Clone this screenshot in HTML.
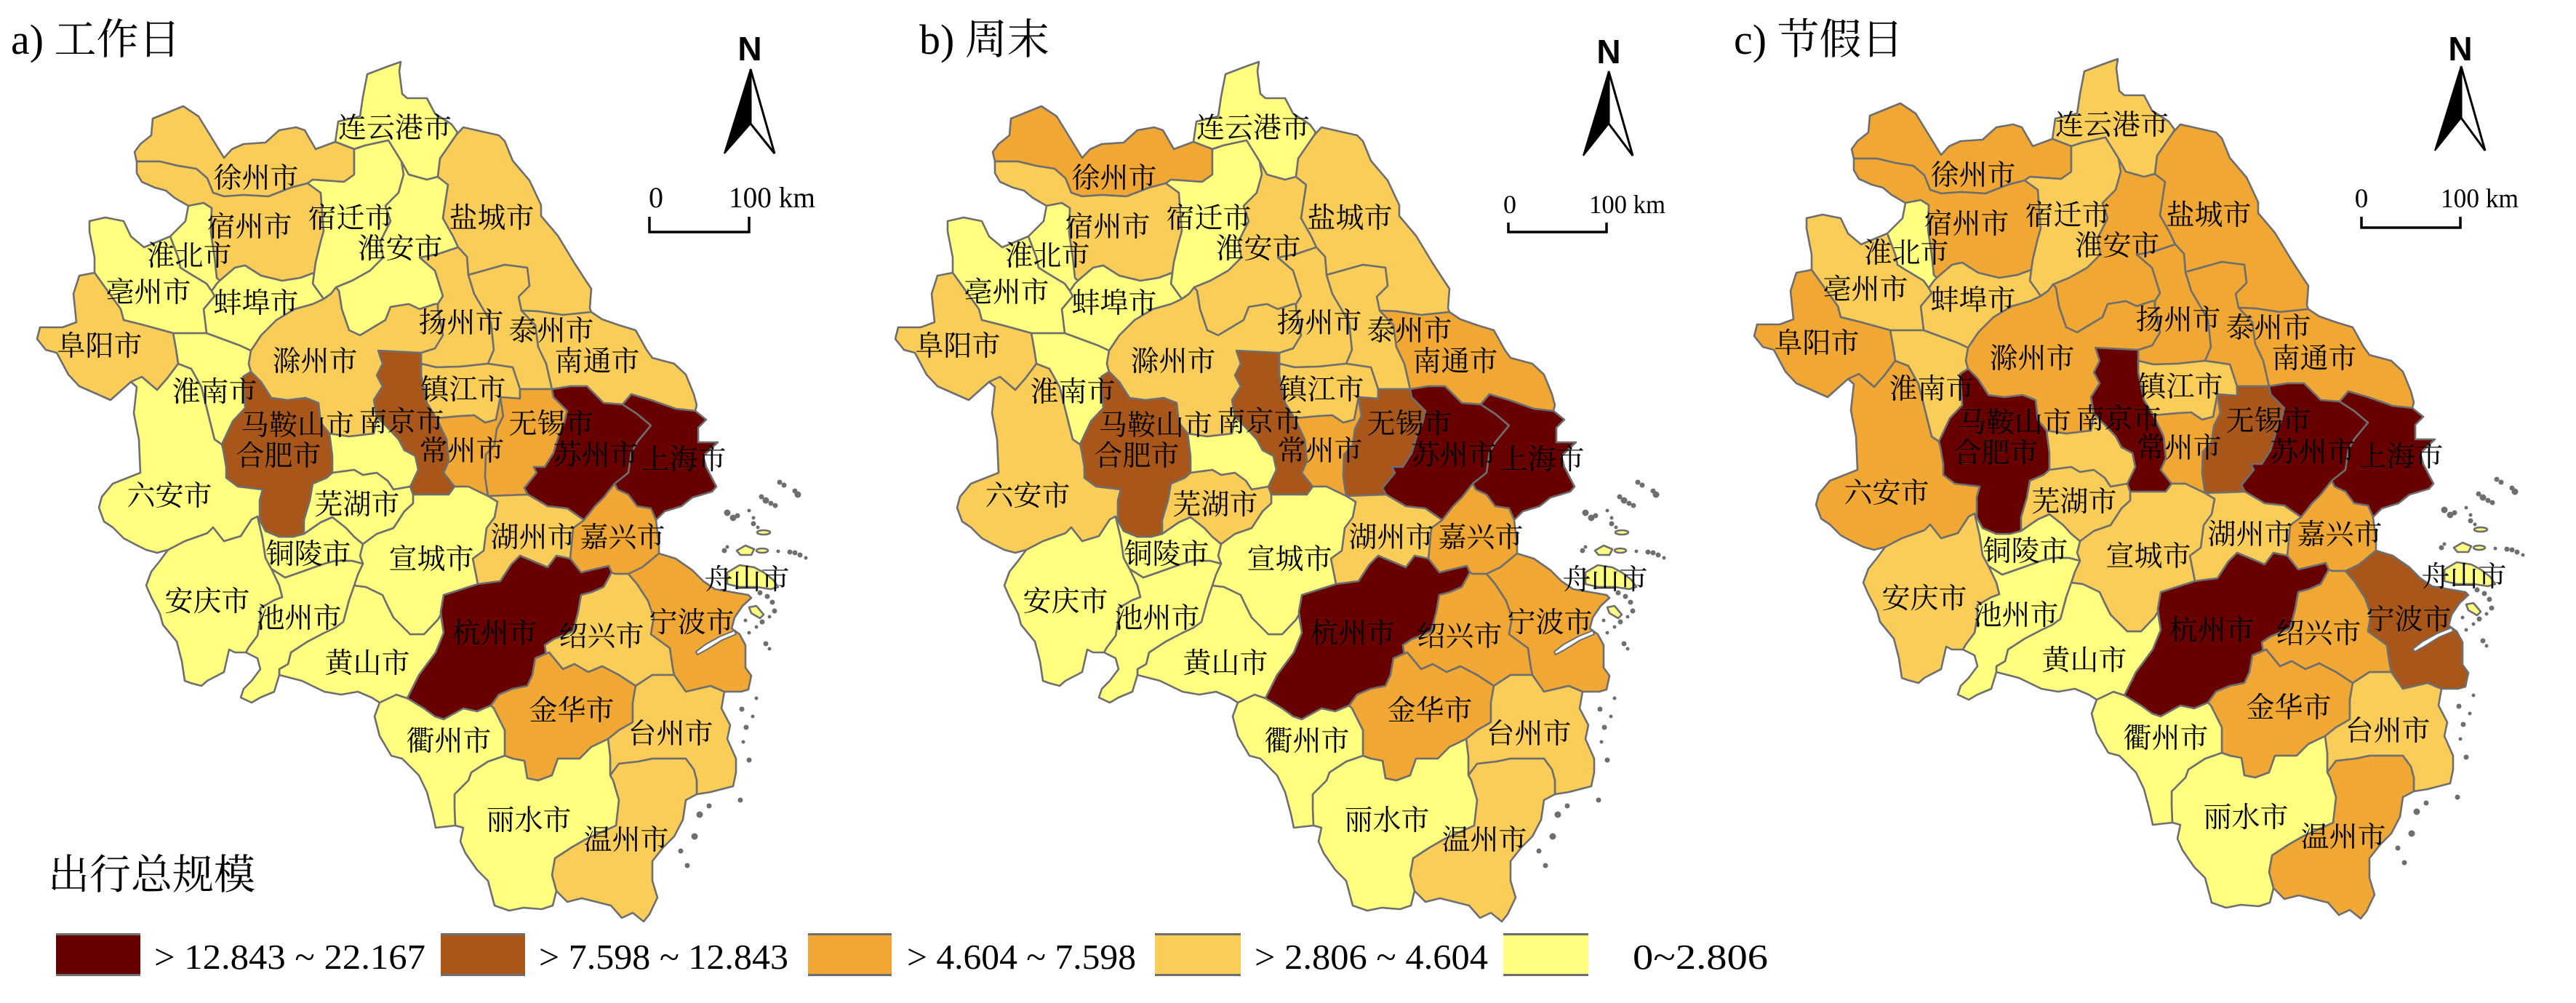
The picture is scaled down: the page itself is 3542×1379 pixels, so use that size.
<!DOCTYPE html>
<html><head><meta charset="utf-8"><style>
html,body{margin:0;padding:0;background:#fff;}
svg{display:block;}
.lb{font-family:"Noto Serif CJK SC",serif;font-size:39px;text-anchor:middle;fill:#000;}
.tt{font-family:"Liberation Serif","Noto Serif CJK SC",serif;font-size:58px;fill:#000;}
.lg{font-family:"Liberation Serif",serif;font-size:49px;fill:#000;}
.sc{font-family:"Liberation Serif",serif;fill:#000;}
.nn{font-family:"Liberation Sans",sans-serif;font-weight:bold;font-size:46px;text-anchor:middle;fill:#000;}
</style></head><body>
<svg width="3542" height="1379" viewBox="0 0 3542 1379" xmlns="http://www.w3.org/2000/svg">
<rect width="3542" height="1379" fill="#fff"/>
<defs>
<polygon id="LYG" points="551,85 549,98 553,129 560,135 587,135 598,156 621,171 629,182 627,186 605,218 602,243 587,247 562,240 552,222 534,193 502,200 487,205 461,195 465,167 495,160 499,133 505,102 534,91"/>
<polygon id="XZ" points="210,163 252,146 273,160 289,186 308,217 319,205 335,198 365,196 384,179 407,175 419,179 434,205 461,195 487,205 487,240 473,250 430,247 423,252 400,258 369,270 335,268 308,270 293,265 285,245 270,232 245,228 220,222 188,222 185,209 193,198 208,186"/>
<polygon id="SZh" points="188,222 220,222 245,228 270,232 285,245 293,265 308,270 335,268 369,270 400,258 423,252 441,265 445,318 441,332 434,361 432,375 413,382 388,386 359,379 337,365 323,368 302,386 298,382 295,354 290,320 291,286 280,279 259,283 240,272 228,262 213,258 195,250 188,238"/>
<polygon id="SQ" points="423,252 430,247 473,250 487,240 487,205 502,200 534,193 552,222 555,240 548,265 530,283 537,304 523,332 527,354 509,372 484,386 462,395 455,404 445,411 430,390 434,361 441,332 445,318 441,265"/>
<polygon id="HA" points="552,222 562,240 587,247 602,243 616,254 609,300 623,325 630,340 600,350 577,354 598,372 609,407 602,418 598,418 577,425 562,418 537,422 530,440 495,461 480,454 470,425 466,400 462,395 484,386 509,372 527,354 523,332 537,304 530,283 548,265 555,240"/>
<polygon id="YC" points="627,186 637,175 686,186 694,194 705,221 728,248 744,282 744,297 767,324 790,362 805,385 813,397 811,424 813,429 774,433 740,428 717,427 713,408 728,393 725,368 694,364 644,378 642,353 630,340 623,325 609,300 616,254 602,243 605,218"/>
<polygon id="YZ" points="577,354 600,350 630,340 642,353 644,378 652,404 659,416 675,443 679,481 671,500 633,504 600,505 579,500 579,485 598,479 609,461 602,425 602,418 609,407 598,372"/>
<polygon id="TZ" points="644,378 694,364 725,368 728,393 713,408 717,427 736,447 740,477 751,500 759,535 715,535 705,505 671,500 679,481 675,443 659,416 652,404"/>
<polygon id="NT" points="717,427 740,428 774,433 813,429 828,439 851,447 874,454 889,481 897,492 927,500 943,515 954,542 958,557 956,565 929,562 895,550 868,542 856,556 830,554 807,531 784,531 759,535 751,500 740,477 736,447"/>
<polygon id="ZJ" points="579,500 600,505 633,504 671,500 705,505 715,535 715,548 688,546 682,577 667,581 652,571 633,572 600,575 587,554 579,516"/>
<polygon id="NJ" points="520,482 579,485 579,500 579,516 587,554 600,575 614,604 617,634 610,650 625,669 617,680 568,680 564,669 575,646 571,627 556,619 548,604 533,588 518,573 514,550 526,531 518,516 526,500"/>
<polygon id="CZ" points="600,575 633,572 652,571 667,581 682,577 688,546 692,572 683,590 680,612 668,625 667,655 671,682 644,669 625,669 610,650 617,634 614,604"/>
<polygon id="WX" points="688,546 715,548 715,535 759,535 761,546 780,565 776,581 768,600 761,623 749,642 734,642 738,650 721,671 726,680 671,682 667,655 668,625 680,612 683,590 692,572"/>
<polygon id="SZ" points="759,535 784,531 807,531 830,554 856,556 876,569 895,585 876,608 868,623 864,650 845,665 830,684 818,696 803,715 780,699 753,696 726,680 721,671 738,650 734,642 749,642 761,623 768,600 776,581 780,565 761,546"/>
<polygon id="SH" points="856,556 868,542 895,550 929,562 956,565 971,577 960,588 960,608 987,608 967,627 971,642 985,669 979,676 952,684 937,696 914,703 902,715 895,699 876,696 864,680 849,673 845,665 864,650 868,623 876,608 895,585 876,569"/>
<polygon id="JX" points="845,665 849,673 864,680 876,696 895,699 902,715 906,749 906,761 883,780 864,789 845,789 841,787 837,778 799,787 784,768 788,726 803,715 818,696 830,684"/>
<polygon id="HZh" points="671,682 726,680 753,696 780,699 803,715 788,726 784,768 765,764 753,780 715,764 703,776 688,799 657,803 650,768 665,757 669,726 680,711 684,690"/>
<polygon id="HZ" points="610,818 657,803 688,799 703,776 715,764 753,780 765,764 784,768 799,787 837,778 841,787 830,807 814,814 799,818 795,841 788,868 761,879 749,887 751,900 736,905 732,928 725,943 705,947 686,955 675,970 656,978 637,974 610,989 598,985 583,974 560,960 576,928 599,897 610,870 606,841"/>
<polygon id="SX" points="845,789 864,789 876,803 891,826 899,849 895,872 921,891 925,918 927,928 897,928 874,943 851,928 828,916 809,924 790,913 774,920 755,897 736,905 751,900 749,887 761,879 788,868 795,841 799,818 814,814 830,807 841,787"/>
<polygon id="NB" points="906,761 929,768 952,784 967,799 983,810 1006,814 1029,818 1033,822 1021,833 1010,849 1006,864 1017,872 1025,887 1025,918 1033,929 1029,948 1019,951 996,951 977,943 943,951 927,928 925,918 921,891 895,872 899,849 891,826 876,803 864,789 883,780"/>
<polygon id="JH" points="675,970 686,955 705,947 725,943 732,928 736,905 755,897 774,920 790,913 809,924 828,916 851,928 874,943 870,966 870,993 851,1004 836,1016 813,1027 797,1043 767,1043 759,1066 740,1073 725,1070 721,1046 705,1043 694,1039 694,1004 679,974"/>
<polygon id="TZz" points="874,943 897,928 927,928 943,951 977,943 996,951 992,974 1004,997 1000,1016 1012,1043 1012,1062 1008,1081 977,1089 958,1092 958,1073 954,1058 943,1043 897,1043 878,1047 851,1050 839,1066 839,1040 836,1016 851,1004 870,993 870,966"/>
<polygon id="WZ" points="839,1066 851,1050 878,1047 897,1043 943,1043 954,1058 958,1073 958,1092 943,1100 939,1127 927,1150 912,1165 897,1184 897,1211 904,1234 893,1257 885,1267 870,1255 855,1262 840,1245 800,1235 780,1240 765,1225 759,1203 763,1180 786,1165 805,1154 847,1135 851,1100 843,1073"/>
<polygon id="LS" points="694,1039 705,1043 721,1046 725,1070 740,1073 759,1066 767,1043 797,1043 813,1027 836,1016 839,1040 839,1066 843,1073 851,1100 847,1135 805,1154 786,1165 763,1180 759,1203 765,1225 760,1245 745,1250 720,1248 700,1252 680,1245 671,1211 656,1196 640,1173 633,1157 637,1138 626,1135 625,1112 625,1092 644,1073 648,1062 671,1047"/>
<polygon id="QZ" points="545,955 560,960 583,974 598,985 610,989 637,974 656,978 675,970 679,974 694,1004 694,1039 671,1047 648,1062 644,1073 625,1092 625,1112 626,1135 599,1138 595,1119 587,1089 576,1066 553,1043 538,1039 522,1012 515,985 522,966"/>
<polygon id="HS" points="487,805 503,807 526,818 533,833 541,849 564,872 583,872 602,852 606,845 610,870 599,897 576,928 560,960 545,955 522,966 511,959 492,951 469,955 446,951 415,936 384,928 384,920 396,913 400,897 423,882 446,870 461,863 472,855 480,825"/>
<polygon id="XC" points="568,680 617,680 625,669 644,669 671,682 684,690 680,711 669,726 665,757 650,768 657,803 610,818 606,841 606,845 602,852 583,872 564,872 541,849 533,833 526,818 503,807 487,805 492,790 499,775 495,764 499,748 518,734 541,726 556,703 568,692"/>
<polygon id="CZh" points="373,782 392,794 415,786 446,775 461,771 484,771 499,775 492,790 487,805 480,825 472,855 461,863 446,870 423,882 400,897 396,913 384,920 384,928 377,951 358,959 346,966 331,959 335,947 346,936 358,920 354,905 338,897 342,890 354,874 358,851 358,836 377,825 388,821 384,805"/>
<polygon id="AQ" points="231,756 254,744 285,733 293,725 308,744 331,737 346,714 354,710 361,740 365,767 373,782 384,805 388,821 377,825 358,836 358,851 354,874 342,890 338,897 323,897 315,893 308,924 285,936 277,943 262,939 254,936 250,909 243,882 224,859 220,844 208,821 201,805 208,786 220,771"/>
<polygon id="TL" points="354,710 357,715 365,730 384,738 403,738 418,734 441,718 457,711 476,726 487,738 499,748 495,764 499,775 484,771 461,771 446,775 415,786 392,794 373,782 365,767 361,740"/>
<polygon id="HF" points="334,518 345,511 359,525 373,547 395,550 420,547 438,554 441,581 453,596 457,627 457,650 449,657 430,665 426,688 418,715 418,734 403,738 384,738 365,730 357,715 357,688 361,673 327,669 311,657 311,642 307,619 305,611 320,579 337,561"/>
<polygon id="MAS" points="453,596 480,600 514,596 518,573 533,588 548,604 556,619 571,627 575,646 564,669 541,673 533,661 518,650 499,653 487,646 457,650 457,627"/>
<polygon id="WH" points="457,650 487,646 499,653 518,650 533,661 541,673 564,669 568,680 568,692 556,703 541,726 518,734 499,748 487,738 476,726 457,711 441,718 418,734 418,715 426,688 430,665 449,657"/>
<polygon id="LA" points="180,525 195,518 216,536 230,520 245,500 263,507 277,532 295,604 305,611 307,619 311,642 311,657 327,669 361,673 357,688 357,715 354,710 346,714 331,737 308,744 293,725 285,733 254,744 231,756 216,760 201,756 185,748 170,740 155,725 143,717 136,698 140,683 155,665 193,650 191,604 184,568 188,532"/>
<polygon id="HN" points="238,458 284,458 330,475 345,482 342,500 345,511 334,518 337,561 320,579 305,611 295,604 277,532 263,507 245,500 242,480"/>
<polygon id="CHZ" points="345,482 359,461 380,440 405,425 430,418 445,411 455,404 462,395 466,400 470,425 480,454 495,461 530,440 537,422 562,418 577,425 598,418 602,418 602,425 609,461 598,479 579,485 520,482 526,500 518,516 526,531 514,550 518,573 514,596 480,600 453,596 441,581 438,554 420,547 395,550 373,547 359,525 345,511 342,500"/>
<polygon id="BB" points="298,390 302,386 323,368 337,365 359,379 388,386 413,382 432,375 430,390 445,411 430,418 405,425 380,440 359,461 345,482 330,475 284,458 280,425 295,407 291,400"/>
<polygon id="HB" points="255,304 259,283 280,279 291,286 290,320 295,354 298,382 302,386 298,390 291,400 284,390 259,375 248,368 245,354 234,325"/>
<polygon id="BZ" points="123,304 145,299 170,304 180,325 198,340 234,325 245,354 248,368 259,375 284,390 291,400 295,407 280,425 284,458 238,458 198,447 170,440 166,425 130,375 130,354 123,318"/>
<polygon id="FY" points="109,379 130,375 166,425 170,440 198,447 238,458 242,480 245,500 230,520 216,536 195,518 180,525 152,550 109,531 94,515 78,485 63,481 51,466 55,450 86,450 105,443 101,404"/>
<g id="ZSI">
<polygon points="1000,787 1017,777 1037,780 1050,787 1063,797 1070,807 1060,810 1040,807 1017,807 1000,803"/>
<polygon points="1013,757 1025,750 1037,755 1033,763 1018,763"/>
<ellipse cx="1048" cy="757" rx="8" ry="3"/>
<ellipse cx="1050" cy="732" rx="9" ry="3"/>
<polygon points="1030,835 1040,833 1050,845 1045,850 1033,843"/>
</g>
<g id="SPK">
<circle cx="1000" cy="705" r="4"/><circle cx="1008" cy="712" r="4"/><circle cx="1014" cy="709" r="3"/>
<circle cx="1047" cy="683" r="3"/><circle cx="1053" cy="688" r="4"/><circle cx="1060" cy="692" r="3"/><circle cx="1066" cy="695" r="3"/>
<circle cx="1072" cy="663" r="3"/><circle cx="1078" cy="667" r="3"/><circle cx="1093" cy="675" r="3"/><circle cx="1097" cy="680" r="4"/>
<circle cx="1030" cy="702" r="2"/><circle cx="1036" cy="712" r="2"/><circle cx="1036" cy="720" r="3"/><circle cx="1042" cy="725" r="2"/>
<circle cx="996" cy="757" r="3"/><circle cx="1000" cy="752" r="2"/><circle cx="1086" cy="759" r="3"/><circle cx="1093" cy="760" r="3"/><circle cx="1100" cy="763" r="3"/><circle cx="1108" cy="767" r="2"/><circle cx="1070" cy="758" r="2"/>
<circle cx="1045" cy="815" r="3"/><circle cx="1055" cy="820" r="3"/><circle cx="1062" cy="828" r="3"/><circle cx="1065" cy="840" r="3"/><circle cx="1048" cy="855" r="3"/><circle cx="1058" cy="848" r="2"/>
<circle cx="1053" cy="885" r="3"/><circle cx="1058" cy="892" r="2"/><circle cx="1025" cy="853" r="2"/><circle cx="1030" cy="870" r="2"/><circle cx="1040" cy="862" r="2"/>
<circle cx="1020" cy="975" r="3"/><circle cx="1026" cy="1000" r="3"/><circle cx="1035" cy="985" r="2"/>
<circle cx="1030" cy="1045" r="3"/><circle cx="1018" cy="1100" r="3"/><circle cx="962" cy="1120" r="4"/>
<circle cx="955" cy="1150" r="4"/><circle cx="945" cy="1190" r="3"/><circle cx="936" cy="1170" r="3"/>
<circle cx="1022" cy="1020" r="2"/><circle cx="1040" cy="960" r="2"/><circle cx="975" cy="1108" r="3"/>
</g>
<polygon id="INL" points="1010,867 990,875 970,886 957,896 959,900 972,893 993,880 1012,872"/>
</defs>

<!-- MAP A -->
<g stroke="#6e6e6e" stroke-width="2.6" stroke-linejoin="round">
<use href="#LYG" fill="#ffff80"/><use href="#XZ" fill="#f9cd58"/><use href="#SZh" fill="#f9cd58"/><use href="#SQ" fill="#ffff80"/><use href="#HA" fill="#ffff80"/><use href="#YC" fill="#f9cd58"/><use href="#YZ" fill="#f9cd58"/><use href="#TZ" fill="#f9cd58"/><use href="#NT" fill="#f9cd58"/><use href="#ZJ" fill="#f9cd58"/><use href="#NJ" fill="#a9561a"/><use href="#CZ" fill="#f0a733"/><use href="#WX" fill="#f0a733"/><use href="#SZ" fill="#680000"/><use href="#SH" fill="#680000"/><use href="#JX" fill="#f0a733"/><use href="#HZh" fill="#f9cd58"/><use href="#HZ" fill="#680000"/><use href="#SX" fill="#f9cd58"/><use href="#NB" fill="#f0a733"/><use href="#JH" fill="#f0a733"/><use href="#TZz" fill="#f9cd58"/><use href="#WZ" fill="#f9cd58"/><use href="#LS" fill="#ffff80"/><use href="#QZ" fill="#ffff80"/><use href="#HS" fill="#ffff80"/><use href="#XC" fill="#ffff80"/><use href="#CZh" fill="#ffff80"/><use href="#AQ" fill="#ffff80"/><use href="#TL" fill="#ffff80"/><use href="#HF" fill="#a9561a"/><use href="#MAS" fill="#ffff80"/><use href="#WH" fill="#ffff80"/><use href="#LA" fill="#ffff80"/><use href="#HN" fill="#ffff80"/><use href="#CHZ" fill="#f9cd58"/><use href="#BB" fill="#ffff80"/><use href="#HB" fill="#ffff80"/><use href="#BZ" fill="#ffff80"/><use href="#FY" fill="#f9cd58"/>
<use href="#INL" fill="#fff" stroke-width="2"/><use href="#ZSI" fill="#ffff80"/><use href="#SPK" fill="#6e6e6e" stroke-width="1"/>
</g>
<!-- MAP B -->
<g transform="translate(1180,0)" stroke="#6e6e6e" stroke-width="2.6" stroke-linejoin="round">
<use href="#LYG" fill="#ffff80"/><use href="#XZ" fill="#f0a733"/><use href="#SZh" fill="#f9cd58"/><use href="#SQ" fill="#ffff80"/><use href="#HA" fill="#f9cd58"/><use href="#YC" fill="#f9cd58"/><use href="#YZ" fill="#f9cd58"/><use href="#TZ" fill="#f9cd58"/><use href="#NT" fill="#f0a733"/><use href="#ZJ" fill="#f9cd58"/><use href="#NJ" fill="#a9561a"/><use href="#CZ" fill="#f0a733"/><use href="#WX" fill="#a9561a"/><use href="#SZ" fill="#680000"/><use href="#SH" fill="#680000"/><use href="#JX" fill="#f0a733"/><use href="#HZh" fill="#f9cd58"/><use href="#HZ" fill="#680000"/><use href="#SX" fill="#f0a733"/><use href="#NB" fill="#f0a733"/><use href="#JH" fill="#f0a733"/><use href="#TZz" fill="#f9cd58"/><use href="#WZ" fill="#f9cd58"/><use href="#LS" fill="#ffff80"/><use href="#QZ" fill="#ffff80"/><use href="#HS" fill="#ffff80"/><use href="#XC" fill="#ffff80"/><use href="#CZh" fill="#ffff80"/><use href="#AQ" fill="#ffff80"/><use href="#TL" fill="#ffff80"/><use href="#HF" fill="#a9561a"/><use href="#MAS" fill="#ffff80"/><use href="#WH" fill="#f9cd58"/><use href="#LA" fill="#f9cd58"/><use href="#HN" fill="#ffff80"/><use href="#CHZ" fill="#f9cd58"/><use href="#BB" fill="#ffff80"/><use href="#HB" fill="#ffff80"/><use href="#BZ" fill="#ffff80"/><use href="#FY" fill="#f9cd58"/>
<use href="#INL" fill="#fff" stroke-width="2"/><use href="#ZSI" fill="#ffff80"/><use href="#SPK" fill="#6e6e6e" stroke-width="1"/>
</g>
<!-- MAP C -->
<g transform="translate(2361,-4)" stroke="#6e6e6e" stroke-width="2.6" stroke-linejoin="round">
<use href="#LYG" fill="#f9cd58"/><use href="#XZ" fill="#f0a733"/><use href="#SZh" fill="#f0a733"/><use href="#SQ" fill="#f9cd58"/><use href="#HA" fill="#f0a733"/><use href="#YC" fill="#f0a733"/><use href="#YZ" fill="#f0a733"/><use href="#TZ" fill="#f0a733"/><use href="#NT" fill="#f0a733"/><use href="#ZJ" fill="#f9cd58"/><use href="#NJ" fill="#680000"/><use href="#CZ" fill="#f0a733"/><use href="#WX" fill="#a9561a"/><use href="#SZ" fill="#680000"/><use href="#SH" fill="#680000"/><use href="#JX" fill="#f0a733"/><use href="#HZh" fill="#f9cd58"/><use href="#HZ" fill="#680000"/><use href="#SX" fill="#f0a733"/><use href="#NB" fill="#a9561a"/><use href="#JH" fill="#f0a733"/><use href="#TZz" fill="#f9cd58"/><use href="#WZ" fill="#f0a733"/><use href="#LS" fill="#ffff80"/><use href="#QZ" fill="#ffff80"/><use href="#HS" fill="#ffff80"/><use href="#XC" fill="#f9cd58"/><use href="#CZh" fill="#ffff80"/><use href="#AQ" fill="#f9cd58"/><use href="#TL" fill="#ffff80"/><use href="#HF" fill="#680000"/><use href="#MAS" fill="#f9cd58"/><use href="#WH" fill="#f9cd58"/><use href="#LA" fill="#f0a733"/><use href="#HN" fill="#f9cd58"/><use href="#CHZ" fill="#f0a733"/><use href="#BB" fill="#f9cd58"/><use href="#HB" fill="#ffff80"/><use href="#BZ" fill="#f9cd58"/><use href="#FY" fill="#f0a733"/>
<use href="#INL" fill="#fff" stroke-width="2"/><use href="#ZSI" fill="#ffff80"/><use href="#SPK" fill="#6e6e6e" stroke-width="1"/>
</g>

<!-- LABELS A -->
<g class="lb">
<text x="543" y="189">连云港市</text><text x="352" y="258">徐州市</text><text x="343" y="325">宿州市</text><text x="482" y="313">宿迁市</text><text x="550" y="355">淮安市</text><text x="676" y="313">盐城市</text><text x="260" y="365">淮北市</text><text x="204" y="415">亳州市</text><text x="352" y="430">蚌埠市</text><text x="634" y="457">扬州市</text><text x="758" y="468">泰州市</text><text x="137" y="489">阜阳市</text><text x="433" y="510">滁州市</text><text x="821" y="510">南通市</text><text x="295" y="552">淮南市</text><text x="637" y="549">镇江市</text><text x="409" y="598">马鞍山市</text><text x="552" y="593">南京市</text><text x="758" y="596">无锡市</text><text x="383" y="640">合肥市</text><text x="635" y="633">常州市</text><text x="819" y="639">苏州市</text><text x="940" y="645">上海市</text><text x="233" y="695">六安市</text><text x="491" y="707">芜湖市</text><text x="733" y="752">湖州市</text><text x="856" y="752">嘉兴市</text><text x="424" y="775">铜陵市</text><text x="593" y="782">宣城市</text><text x="1027" y="810">舟山市</text><text x="285" y="840">安庆市</text><text x="411" y="863">池州市</text><text x="680" y="884">杭州市</text><text x="827" y="888">绍兴市</text><text x="951" y="869">宁波市</text><text x="505" y="925">黄山市</text><text x="786" y="990">金华市</text><text x="617" y="1032">衢州市</text><text x="922" y="1022">台州市</text><text x="727" y="1141">丽水市</text><text x="861" y="1168">温州市</text>
</g>
<!-- LABELS B -->
<g class="lb" transform="translate(1180,0)">
<text x="543" y="189">连云港市</text><text x="352" y="258">徐州市</text><text x="343" y="325">宿州市</text><text x="482" y="313">宿迁市</text><text x="550" y="355">淮安市</text><text x="676" y="313">盐城市</text><text x="260" y="365">淮北市</text><text x="204" y="415">亳州市</text><text x="352" y="430">蚌埠市</text><text x="634" y="457">扬州市</text><text x="758" y="468">泰州市</text><text x="137" y="489">阜阳市</text><text x="433" y="510">滁州市</text><text x="821" y="510">南通市</text><text x="295" y="552">淮南市</text><text x="637" y="549">镇江市</text><text x="409" y="598">马鞍山市</text><text x="552" y="593">南京市</text><text x="758" y="596">无锡市</text><text x="383" y="640">合肥市</text><text x="635" y="633">常州市</text><text x="819" y="639">苏州市</text><text x="940" y="645">上海市</text><text x="233" y="695">六安市</text><text x="491" y="707">芜湖市</text><text x="733" y="752">湖州市</text><text x="856" y="752">嘉兴市</text><text x="424" y="775">铜陵市</text><text x="593" y="782">宣城市</text><text x="1027" y="810">舟山市</text><text x="285" y="840">安庆市</text><text x="411" y="863">池州市</text><text x="680" y="884">杭州市</text><text x="827" y="888">绍兴市</text><text x="951" y="869">宁波市</text><text x="505" y="925">黄山市</text><text x="786" y="990">金华市</text><text x="617" y="1032">衢州市</text><text x="922" y="1022">台州市</text><text x="727" y="1141">丽水市</text><text x="861" y="1168">温州市</text>
</g>
<!-- LABELS C -->
<g class="lb" transform="translate(2361,-4)">
<text x="543" y="189">连云港市</text><text x="352" y="258">徐州市</text><text x="343" y="325">宿州市</text><text x="482" y="313">宿迁市</text><text x="550" y="355">淮安市</text><text x="676" y="313">盐城市</text><text x="260" y="365">淮北市</text><text x="204" y="415">亳州市</text><text x="352" y="430">蚌埠市</text><text x="634" y="457">扬州市</text><text x="758" y="468">泰州市</text><text x="137" y="489">阜阳市</text><text x="433" y="510">滁州市</text><text x="821" y="510">南通市</text><text x="295" y="552">淮南市</text><text x="637" y="549">镇江市</text><text x="409" y="598">马鞍山市</text><text x="552" y="593">南京市</text><text x="758" y="596">无锡市</text><text x="383" y="640">合肥市</text><text x="635" y="633">常州市</text><text x="819" y="639">苏州市</text><text x="940" y="645">上海市</text><text x="233" y="695">六安市</text><text x="491" y="707">芜湖市</text><text x="733" y="752">湖州市</text><text x="856" y="752">嘉兴市</text><text x="424" y="775">铜陵市</text><text x="593" y="782">宣城市</text><text x="1027" y="810">舟山市</text><text x="285" y="840">安庆市</text><text x="411" y="863">池州市</text><text x="680" y="884">杭州市</text><text x="827" y="888">绍兴市</text><text x="951" y="869">宁波市</text><text x="505" y="925">黄山市</text><text x="786" y="990">金华市</text><text x="617" y="1032">衢州市</text><text x="922" y="1022">台州市</text><text x="727" y="1141">丽水市</text><text x="861" y="1168">温州市</text>
</g>

<!-- Titles -->
<text class="tt" x="15" y="74">a) 工作日</text>
<text class="tt" x="1264" y="74">b) 周末</text>
<text class="tt" x="2384" y="74">c) 节假日</text>

<!-- North arrows -->
<text class="nn" x="1031" y="83">N</text>
<polygon points="1032,95 996,211 1032,170" fill="#000" stroke="#000" stroke-width="2"/>
<polygon points="1032,95 1032,170 1065,211" fill="#fff" stroke="#000" stroke-width="3"/>
<text class="nn" x="2212" y="87">N</text>
<polygon points="2212,98 2177,214 2212,170" fill="#000" stroke="#000" stroke-width="2"/>
<polygon points="2212,98 2212,170 2245,214" fill="#fff" stroke="#000" stroke-width="3"/>
<text class="nn" x="3383" y="83">N</text>
<polygon points="3384,91 3348,207 3384,162" fill="#000" stroke="#000" stroke-width="2"/>
<polygon points="3384,91 3384,162 3417,207" fill="#fff" stroke="#000" stroke-width="3"/>

<!-- Scale bars -->
<g fill="none" stroke="#000" stroke-width="3.5">
<polyline points="893,298 893,319 1030,319 1030,298"/>
<polyline points="2074,306 2074,319 2209,319 2209,306"/>
<polyline points="3247,298 3247,313 3383,313 3383,298"/>
</g>
<text class="sc" x="902" y="285" font-size="40" text-anchor="middle">0</text>
<text class="sc" x="1002" y="285" font-size="40" textLength="119" lengthAdjust="spacingAndGlyphs">100 km</text>
<text class="sc" x="2076" y="293" font-size="36" text-anchor="middle">0</text>
<text class="sc" x="2185" y="293" font-size="36" textLength="105" lengthAdjust="spacingAndGlyphs">100 km</text>
<text class="sc" x="3247" y="285" font-size="37" text-anchor="middle">0</text>
<text class="sc" x="3356" y="285" font-size="37" textLength="107" lengthAdjust="spacingAndGlyphs">100 km</text>

<!-- Legend -->
<text x="66" y="1222" font-family="'Noto Serif CJK SC',serif" font-size="57" fill="#000" textLength="285" lengthAdjust="spacingAndGlyphs">出行总规模</text>
<g>
<rect x="77" y="1283" width="116" height="59" fill="#680000"/>
<rect x="606" y="1283" width="116" height="59" fill="#a9561a"/>
<rect x="1111" y="1283" width="115" height="59" fill="#f0a733"/>
<rect x="1588" y="1283" width="118" height="59" fill="#f9cd58"/>
<rect x="2067" y="1283" width="117" height="59" fill="#ffff80"/>
</g>
<g stroke="#6e6e6e" stroke-width="3">
<line x1="77" y1="1284.5" x2="193" y2="1284.5"/><line x1="77" y1="1340.5" x2="193" y2="1340.5"/>
<line x1="606" y1="1284.5" x2="722" y2="1284.5"/><line x1="606" y1="1340.5" x2="722" y2="1340.5"/>
<line x1="1111" y1="1284.5" x2="1226" y2="1284.5"/><line x1="1111" y1="1340.5" x2="1226" y2="1340.5"/>
<line x1="1588" y1="1284.5" x2="1706" y2="1284.5"/><line x1="1588" y1="1340.5" x2="1706" y2="1340.5"/>
<line x1="2067" y1="1284.5" x2="2184" y2="1284.5"/><line x1="2067" y1="1340.5" x2="2184" y2="1340.5"/>
</g>
<text class="lg" x="212" y="1332" textLength="373" lengthAdjust="spacingAndGlyphs">&gt; 12.843 ~ 22.167</text>
<text class="lg" x="741" y="1332" textLength="343" lengthAdjust="spacingAndGlyphs">&gt; 7.598 ~ 12.843</text>
<text class="lg" x="1247" y="1332" textLength="315" lengthAdjust="spacingAndGlyphs">&gt; 4.604 ~ 7.598</text>
<text class="lg" x="1725" y="1332" textLength="321" lengthAdjust="spacingAndGlyphs">&gt; 2.806 ~ 4.604</text>
<text class="lg" x="2245" y="1332" textLength="186" lengthAdjust="spacingAndGlyphs">0~2.806</text>
</svg>
</body></html>
